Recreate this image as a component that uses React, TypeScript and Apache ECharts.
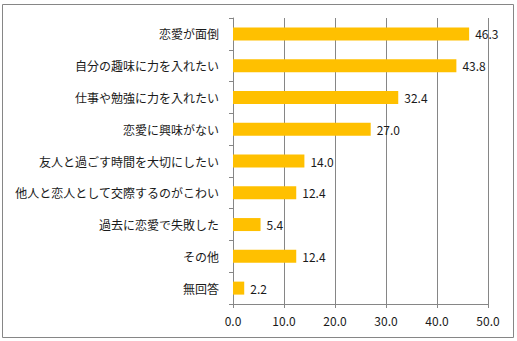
import React, { useEffect, useRef } from "react";
import * as echarts from "echarts";

const categories = [
  "恋愛が面倒",
  "自分の趣味に力を入れたい",
  "仕事や勉強に力を入れたい",
  "恋愛に興味がない",
  "友人と過ごす時間を大切にしたい",
  "他人と恋人として交際するのがこわい",
  "過去に恋愛で失敗した",
  "その他",
  "無回答",
];
const values = [46.3, 43.8, 32.4, 27.0, 14.0, 12.4, 5.4, 12.4, 2.2];
const xMin = 0;
const xMax = 50;
const xStep = 10;

export default function App() {
  const ref = useRef<HTMLDivElement>(null);
  useEffect(() => {
    document.body.style.margin = "0";
    const chart = echarts.init(ref.current!, null, { renderer: "svg" });
    const font = "'Noto Sans CJK JP', 'Noto Sans', sans-serif";
    chart.setOption({
      animation: false,
      textStyle: { fontFamily: font },
      graphic: [
        {
          type: "rect",
          shape: { x: 2.5, y: 4.5, width: 511, height: 333 },
          style: { fill: "none", stroke: "#868686", lineWidth: 1 },
          silent: true,
        },
      ],
      grid: { left: 233, right: 29, top: 18, bottom: 37, containLabel: false },
      xAxis: {
        type: "value",
        min: xMin,
        max: xMax,
        interval: xStep,
        axisLine: { show: true, lineStyle: { color: "#868686" } },
        axisTick: { show: true, length: 4, lineStyle: { color: "#868686" } },
        splitLine: { show: true, lineStyle: { color: "#868686", width: 1 } },
        axisLabel: {
          color: "#1a1a1a",
          fontSize: 12,
          margin: 10,
          fontFamily: font,
          formatter: (v: number) => v.toFixed(1),
        },
      },
      yAxis: {
        type: "category",
        data: categories,
        inverse: true,
        axisLine: { show: true, lineStyle: { color: "#868686" } },
        axisTick: { show: true, length: 4, lineStyle: { color: "#868686" } },
        axisLabel: { color: "#1a1a1a", fontSize: 12, margin: 14, fontFamily: font },
      },
      series: [
        {
          type: "bar",
          data: values,
          barWidth: 13,
          itemStyle: { color: "#FFC000" },
          label: {
            show: true,
            position: "right",
            distance: 6,
            color: "#1a1a1a",
            fontSize: 12,
            fontFamily: font,
            formatter: (p: any) => Number(p.value).toFixed(1),
          },
        },
      ],
    });
    return () => chart.dispose();
  }, []);
  return <div ref={ref} style={{ width: 517, height: 341 }} />;
}
